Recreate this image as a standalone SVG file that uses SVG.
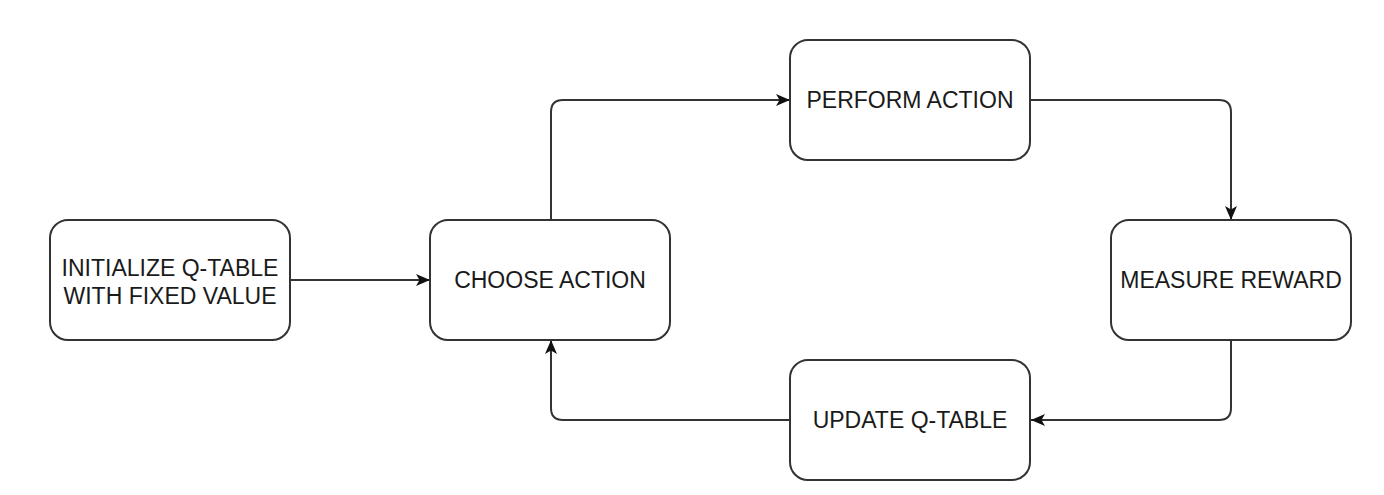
<svg xmlns="http://www.w3.org/2000/svg" width="1384" height="495" viewBox="0 0 1384 495">
<style>
.box{fill:#fff;stroke:#333;stroke-width:2}
.lbl{font-family:"Liberation Sans",Arial,sans-serif;font-size:23px;fill:#1a1a1a;text-anchor:middle;dominant-baseline:central}
.edge{fill:none;stroke:#333;stroke-width:2}
</style>
<defs>
<marker id="arr" viewBox="0 0 14 12" refX="14" refY="6" markerWidth="14" markerHeight="12" markerUnits="userSpaceOnUse" orient="auto">
<path d="M0,0 L14,6 L0,12 L3.5,6 Z" fill="#111"/>
</marker>
</defs>
<rect width="1384" height="495" fill="#fff"/>
<g id="connectors">
<path class="edge" d="M290,280 L430,280" marker-end="url(#arr)"/>
<path class="edge" d="M551,220 L551,112 Q551,100 563,100 L790,100" marker-end="url(#arr)"/>
<path class="edge" d="M1030,100 L1219,100 Q1231,100 1231,112 L1231,220" marker-end="url(#arr)"/>
<path class="edge" d="M1231,340 L1231,408 Q1231,420 1219,420 L1031,420" marker-end="url(#arr)"/>
<path class="edge" d="M790,420 L563,420 Q551,420 551,408 L551,340" marker-end="url(#arr)"/>
</g>
<g id="init">
<rect class="box" x="50" y="220" width="240" height="120" rx="18"/>
<text class="lbl" x="170" y="268">INITIALIZE Q-TABLE</text>
<text class="lbl" x="170" y="296">WITH FIXED VALUE</text>
</g>
<g id="choose">
<rect class="box" x="430" y="220" width="240" height="120" rx="18"/>
<text class="lbl" x="550" y="280">CHOOSE ACTION</text>
</g>
<g id="perform">
<rect class="box" x="790" y="40" width="240" height="120" rx="18"/>
<text class="lbl" x="910" y="100">PERFORM ACTION</text>
</g>
<g id="measure">
<rect class="box" x="1111" y="220" width="240" height="120" rx="18"/>
<text class="lbl" x="1231" y="280">MEASURE REWARD</text>
</g>
<g id="update">
<rect class="box" x="790" y="360" width="240" height="120" rx="18"/>
<text class="lbl" x="910" y="420">UPDATE Q-TABLE</text>
</g>
</svg>
